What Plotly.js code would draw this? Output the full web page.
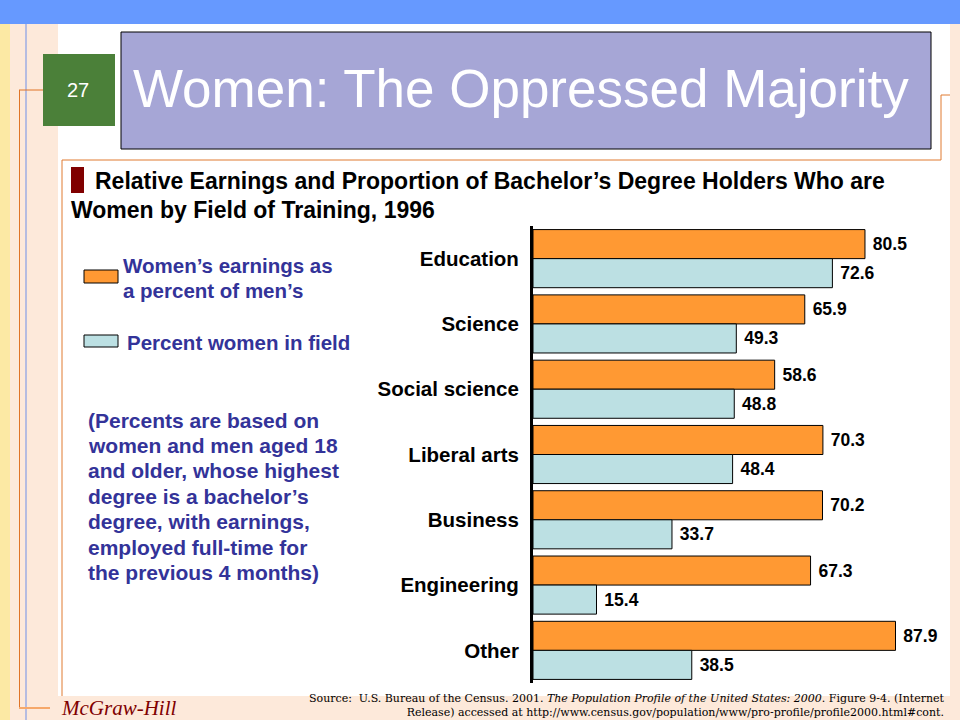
<!DOCTYPE html>
<html>
<head>
<meta charset="utf-8">
<script src="https://cdn.plot.ly/plotly-3.0.1.min.js"></script>
<style>
  html, body { margin: 0; padding: 0; background: #fff; }
  #chart { width: 960px; height: 720px; }
</style>
</head>
<body>
<div id="chart"></div>
<script>
// data
const fields = ['Education', 'Science', 'Social science', 'Liberal arts', 'Business', 'Engineering', 'Other'];
const earningsPct = [80.5, 65.9, 58.6, 70.3, 70.2, 67.3, 87.9];
const womenPct = [72.6, 49.3, 48.8, 48.4, 33.7, 15.4, 38.5];
const seriesNames = ['Women’s earnings as a percent of men’s', 'Percent women in field'];
const legendLines = [['Women’s earnings as', 'a percent of men’s'], ['Percent women in field']];
const noteLines = [
    '(Percents are based on',
    'women and men aged 18',
    'and older, whose highest',
    'degree is a bachelor’s',
    'degree, with earnings,',
    'employed full-time for',
    'the previous 4 months)'
];
const sourceLines = [
    'Source:  U.S. Bureau of the Census. 2001. <i>The Population Profile of the United States: 2000</i>. Figure 9-4. (Internet',
    'Release) accessed at http://www.census.gov/population/www/pro-profile/profile2000.html#cont.'
];

const W = 960, H = 720;
const sans = 'Liberation Sans, Arial, sans-serif';
const serif = 'Liberation Serif, Times New Roman, serif';
const orange = '#FF9933';
const lightBlue = '#BCE0E3';
const navy = '#333399';

// pixel -> paper helpers
function px(x){ return x / W; }
function py(y){ return 1 - y / H; }

function rect(x0, y0, x1, y1, fill, lineColor, lineWidth){
    return {type: 'rect', xref: 'paper', yref: 'paper', layer: 'below',
        x0: px(x0), x1: px(x1), y0: py(y1), y1: py(y0),
        fillcolor: fill, line: {color: lineColor || fill, width: lineWidth === undefined ? 0 : lineWidth}};
}
function seg(x0, y0, x1, y1, color, width){
    return {type: 'line', xref: 'paper', yref: 'paper', layer: 'below',
        x0: px(x0), x1: px(x1), y0: py(y0), y1: py(y1),
        line: {color, width: width || 1}};
}
function label(x, y, text, font, xanchor, align){
    return {xref: 'paper', yref: 'paper', x: px(x), y: py(y), text,
        showarrow: false, xanchor: xanchor || 'left', yanchor: 'middle',
        align: align || 'left', font, borderpad: 0};
}

const pxPerUnit = 4.124;
const axisLeft = 533, plotRight = 950;
const valueFont = {family: sans, size: 17.5, color: '#000', weight: 'bold'};

const traces = [
    {
        type: 'bar', orientation: 'h', name: seriesNames[0],
        y: fields, x: earningsPct,
        marker: {color: orange, line: {color: '#000', width: 1}},
        texttemplate: '\u00a0%{x:.1f}', textposition: 'outside', constraintext: 'none',
        cliponaxis: false, textfont: valueFont, hoverinfo: 'skip'
    },
    {
        type: 'bar', orientation: 'h', name: seriesNames[1],
        y: fields, x: womenPct,
        marker: {color: lightBlue, line: {color: '#000', width: 1}},
        texttemplate: '\u00a0%{x:.1f}', textposition: 'outside', constraintext: 'none',
        cliponaxis: false, textfont: valueFont, hoverinfo: 'skip'
    }
];

const shapes = [
    rect(0, 0, 960, 24, '#6699FF'),
    rect(0, 24, 10, 720, '#FCE9A4'),
    rect(10, 24, 58, 720, '#FDE9DA'),
    rect(950, 24, 960, 720, '#FDE9DA'),
    rect(58, 696, 950, 720, '#FDE9DA'),
    seg(26, 24, 26, 720, '#6F8FE8', 1),
    seg(19.5, 90, 19.5, 708, '#E07426', 1),
    seg(19, 90, 43, 90, '#E07426', 1),
    seg(19, 708, 50, 708, '#F6A86A', 2),
    seg(62, 160, 941, 160, '#E07A30', 1),
    seg(62, 160, 62, 696, '#E07A30', 1),
    seg(941, 95, 941, 160, '#E07A30', 1),
    seg(941, 95, 950, 95, '#E07A30', 1),
    rect(43, 54, 115, 126, '#4B8039'),
    rect(121, 32, 931, 149, '#A6A6D6', '#000', 1),
    rect(71, 167, 84, 193, '#800000'),
    rect(84, 270, 118, 283, orange, '#000', 1),
    rect(84, 335, 118, 347, lightBlue, '#000', 1)
];

const legendFont = {family: sans, size: 20.5, color: navy, weight: 'bold'};
const noteFont = {family: sans, size: 21, color: navy, weight: 'bold'};
const titleFont = {family: sans, size: 23, color: '#000', weight: 'bold'};
const sourceFont = {family: 'DejaVu Serif, serif', size: 11, color: '#000'};

const annotations = [
    label(78, 90, '27', {family: sans, size: 20, color: '#fff'}, 'center'),
    label(132, 88, 'Women: The Oppressed Majority', {family: sans, size: 53, color: '#fff'}),
    label(94, 181, 'Relative Earnings and Proportion of Bachelor’s Degree Holders Who are', titleFont),
    label(70, 210, 'Women by Field of Training, 1996', titleFont),
    label(122, 265, legendLines[0][0], legendFont),
    label(122, 290, legendLines[0][1], legendFont),
    label(126, 342, legendLines[1][0], legendFont),
    label(945, 705.5, sourceLines.join('<br>'), sourceFont, 'right', 'right'),
    label(60, 708, '<i>McGraw-Hill</i>', {family: serif, size: 21, color: '#800000'})
];
noteLines.forEach(function(line, i){
    annotations.push(label(87, 420 + i * 25.45, line, noteFont));
});

const layout = {
    width: W, height: H,
    margin: {l: 0, r: 0, t: 0, b: 0},
    paper_bgcolor: '#fff',
    plot_bgcolor: 'rgba(0,0,0,0)',
    showlegend: false,
    barmode: 'group',
    bargap: 0.11,
    bargroupgap: 0,
    xaxis: {
        domain: [px(axisLeft), px(plotRight)],
        range: [0, (plotRight - axisLeft) / pxPerUnit],
        showgrid: false, zeroline: false, showline: false,
        showticklabels: false, ticks: ''
    },
    yaxis: {
        domain: [py(683), py(226)],
        categoryorder: 'array', categoryarray: fields,
        range: [fields.length - 0.5, -0.5],
        showgrid: false, zeroline: false,
        showline: true, linecolor: '#000', linewidth: 3,
        ticks: '', ticklabelstandoff: 7,
        tickfont: {family: sans, size: 20.5, color: '#000', weight: 'bold'}
    },
    shapes,
    annotations
};

Plotly.newPlot('chart', traces, layout, {staticPlot: true});
</script>
</body>
</html>
